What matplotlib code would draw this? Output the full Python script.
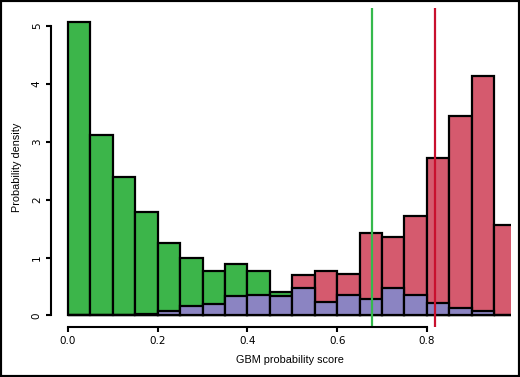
import matplotlib
matplotlib.use('Agg')
import matplotlib.pyplot as plt
from matplotlib.patches import Rectangle

plt.rcParams['font.family'] = ['Liberation Sans', 'DejaVu Sans']

# histogram densities, bins of width 0.05 from 0 to 1
bin_left = [0.00, 0.05, 0.10, 0.15, 0.20, 0.25, 0.30, 0.35, 0.40, 0.45,
            0.50, 0.55, 0.60, 0.65, 0.70, 0.75, 0.80, 0.85, 0.90, 0.95]
bin_width = 0.05
green_dens = [5.07, 3.11, 2.39, 1.78, 1.25, 0.99, 0.77, 0.88, 0.77, 0.41,
              0.30, 0.20, 0.25, 0.20, 0.15, 0.10, 0.10, 0.05, 0.05, 0.00]
red_dens = [0.00, 0.00, 0.00, 0.00, 0.02, 0.05, 0.08, 0.10, 0.15, 0.20,
            0.69, 0.76, 0.71, 1.43, 1.36, 1.72, 2.72, 3.45, 4.14, 1.57]
purple_dens = [0.00, 0.00, 0.00, 0.03, 0.08, 0.17, 0.20, 0.33, 0.36, 0.34,
               0.47, 0.24, 0.35, 0.29, 0.48, 0.35, 0.21, 0.12, 0.08, 0.00]

# cutoffs
green_cut = 0.678
red_cut = 0.818

fig = plt.figure(figsize=(5.2, 3.77), dpi=100)
ax = fig.add_axes([0.098, 0.132, 0.885, 0.846])

for dens, col in [(green_dens, '#3cb54a'), (red_dens, '#d55a6e'), (purple_dens, '#8b84c2')]:
    ax.bar(bin_left, dens, width=bin_width, align='edge', color=col,
           edgecolor='black', linewidth=1.6)

ax.axvline(green_cut, color='#35b94c', linewidth=1.6)
ax.axvline(red_cut, color='#c8102e', linewidth=1.6)

ax.set_xlim(-0.038, 0.988)
ax.set_ylim(-0.204, 5.304)
ax.spines['top'].set_visible(False)
ax.spines['right'].set_visible(False)
ax.spines['bottom'].set_bounds(0, 0.8)
ax.spines['left'].set_bounds(0, 5)
ax.spines['bottom'].set_linewidth(1.5)
ax.spines['left'].set_linewidth(1.5)

ax.set_xticks([0, 0.2, 0.4, 0.6, 0.8])
ax.set_xticklabels(['0.0', '0.2', '0.4', '0.6', '0.8'])
ax.set_yticks([0, 1, 2, 3, 4, 5])
ax.tick_params(axis='both', length=3.6, width=1.5, pad=3)
for lab in ax.get_xticklabels() + ax.get_yticklabels():
    lab.set_family('DejaVu Sans')
    lab.set_fontsize(7.5)
for lab in ax.get_yticklabels():
    lab.set_rotation(90)
    lab.set_va('center')

ax.set_xlabel('GBM probability score', fontsize=7.8)
ax.xaxis.set_label_coords(0.52, -0.086)
ax.set_ylabel('Probability density', fontsize=7.8)
ax.yaxis.set_label_coords(-0.062, 0.5)

fig.patches.append(Rectangle((0, 0), 1, 1, transform=fig.transFigure,
                             fill=False, edgecolor='black', linewidth=3))

fig.savefig('out.png', dpi=100)
